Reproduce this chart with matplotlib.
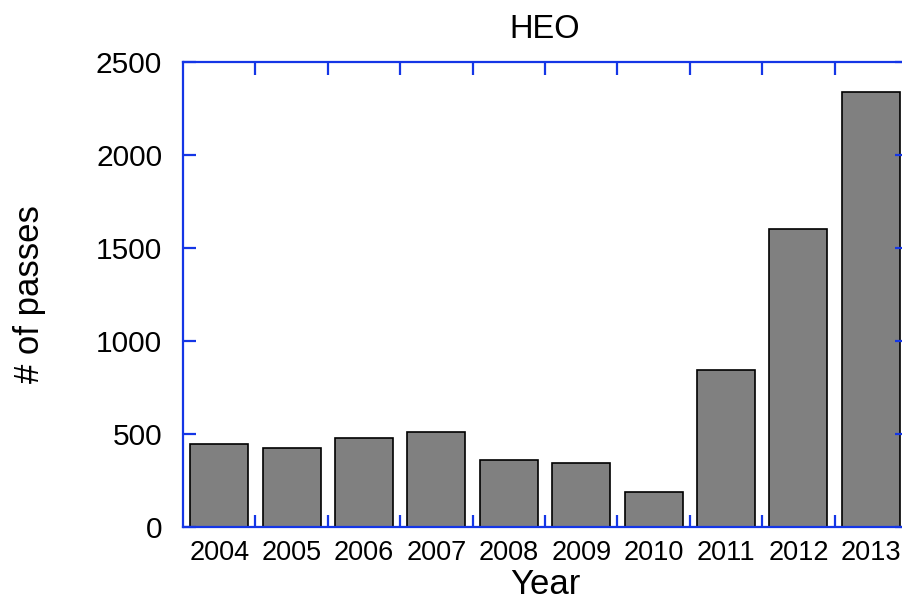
import matplotlib.pyplot as plt
import numpy as np

plt.rcParams['font.family'] = ['Liberation Sans', 'DejaVu Sans']

years = ['2004', '2005', '2006', '2007', '2008', '2009', '2010', '2011', '2012', '2013']
passes = [446, 427, 477, 511, 360, 344, 190, 844, 1604, 2339]

blue = '#1436e6'

fig = plt.figure(figsize=(9.03, 6.04), dpi=100)
ax = fig.add_axes([183/903, 77/604, 724/903, 465/604])

x = np.arange(len(years))
ax.bar(x, passes, width=0.8, color='#808080', edgecolor='black', linewidth=1.2)

ax.set_xlim(-0.5, len(years) - 0.5)
ax.set_ylim(0, 2500)

for s in ax.spines.values():
    s.set_color(blue)
    s.set_linewidth(1.6)

# year labels under the bars, blue separator ticks between them
ax.set_xticks(x)
ax.set_xticklabels(years)
ax.set_xticks(x[:-1] + 0.5, minor=True)
ax.tick_params(axis='x', which='major', length=0, labelsize=19.5, pad=9)
ax.tick_params(axis='x', which='minor', direction='in', length=9, width=1.6,
               color=blue, top=True, bottom=True)

ax.set_yticks(np.arange(0, 2501, 500))
ax.tick_params(axis='y', direction='in', length=9, width=1.6, color=blue,
               left=True, right=True, labelsize=21.5, pad=15)

ax.set_xlabel('Year', fontsize=25, labelpad=2)
ax.set_ylabel('# of passes', fontsize=25, labelpad=36)
ax.set_title('HEO', fontsize=23.5, pad=17)

fig.savefig('out.png', dpi=100)
